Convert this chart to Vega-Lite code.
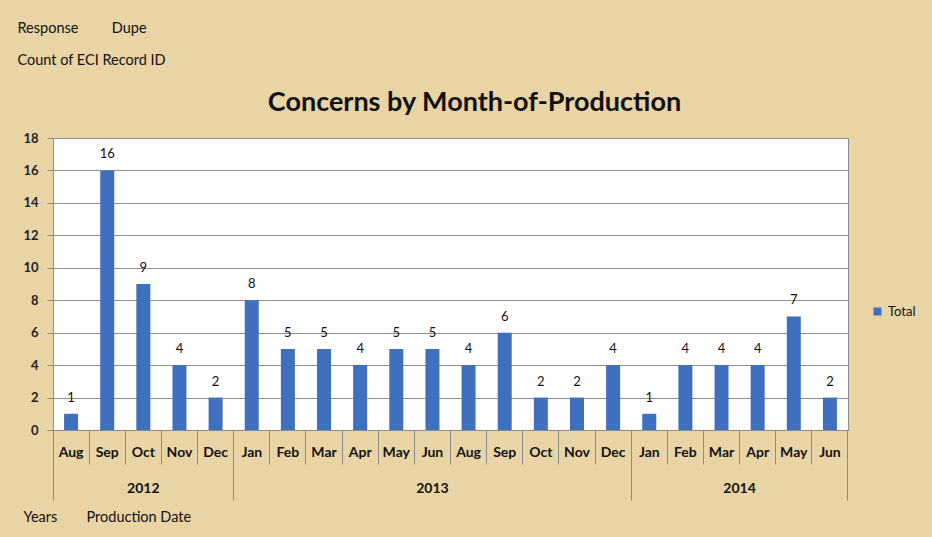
{
  "$schema": "https://vega.github.io/schema/vega-lite/v6.json",
  "autosize": {"type": "none"},
  "width": 795,
  "height": 292,
  "padding": {"left": 53, "top": 138, "right": 84, "bottom": 107},
  "background": "#E9D4A5",
  "title": {
    "text": "Concerns by Month-of-Production",
    "font": "Lato",
    "fontSize": 27,
    "fontWeight": "bold",
    "color": "#111111",
    "anchor": "middle",
    "dx": 24,
    "offset": -97
  },
  "config": {
    "view": {"fill": "white", "stroke": "#8c8c8c", "strokeWidth": 1},
    "font": "Lato"
  },
  "data": {
    "values": [
      {"key": "2012-Aug", "year": "2012", "month": "Aug", "count": 1, "series": "Total"},
      {"key": "2012-Sep", "year": "2012", "month": "Sep", "count": 16, "series": "Total"},
      {"key": "2012-Oct", "year": "2012", "month": "Oct", "count": 9, "series": "Total"},
      {"key": "2012-Nov", "year": "2012", "month": "Nov", "count": 4, "series": "Total"},
      {"key": "2012-Dec", "year": "2012", "month": "Dec", "count": 2, "series": "Total"},
      {"key": "2013-Jan", "year": "2013", "month": "Jan", "count": 8, "series": "Total"},
      {"key": "2013-Feb", "year": "2013", "month": "Feb", "count": 5, "series": "Total"},
      {"key": "2013-Mar", "year": "2013", "month": "Mar", "count": 5, "series": "Total"},
      {"key": "2013-Apr", "year": "2013", "month": "Apr", "count": 4, "series": "Total"},
      {"key": "2013-May", "year": "2013", "month": "May", "count": 5, "series": "Total"},
      {"key": "2013-Jun", "year": "2013", "month": "Jun", "count": 5, "series": "Total"},
      {"key": "2013-Aug", "year": "2013", "month": "Aug", "count": 4, "series": "Total"},
      {"key": "2013-Sep", "year": "2013", "month": "Sep", "count": 6, "series": "Total"},
      {"key": "2013-Oct", "year": "2013", "month": "Oct", "count": 2, "series": "Total"},
      {"key": "2013-Nov", "year": "2013", "month": "Nov", "count": 2, "series": "Total"},
      {"key": "2013-Dec", "year": "2013", "month": "Dec", "count": 4, "series": "Total"},
      {"key": "2014-Jan", "year": "2014", "month": "Jan", "count": 1, "series": "Total"},
      {"key": "2014-Feb", "year": "2014", "month": "Feb", "count": 4, "series": "Total"},
      {"key": "2014-Mar", "year": "2014", "month": "Mar", "count": 4, "series": "Total"},
      {"key": "2014-Apr", "year": "2014", "month": "Apr", "count": 4, "series": "Total"},
      {"key": "2014-May", "year": "2014", "month": "May", "count": 7, "series": "Total"},
      {"key": "2014-Jun", "year": "2014", "month": "Jun", "count": 2, "series": "Total"}
    ]
  },
  "resolve": {"axis": {"x": "independent", "y": "independent"}},
  "layer": [
    {
      "mark": {"type": "bar", "size": 14},
      "encoding": {
        "x": {
          "field": "key",
          "type": "nominal",
          "sort": null,
          "scale": {"paddingInner": 0, "paddingOuter": 0},
          "axis": {
            "orient": "bottom",
            "title": "Production Date",
            "titleFont": "Lato",
            "titleFontSize": 14.5,
            "titleFontWeight": "normal",
            "titleColor": "#111111",
            "titleAnchor": "start",
            "titleAlign": "left",
            "titleBaseline": "middle",
            "titleX": 33,
            "titleY": 87,
            "labelExpr": "slice(datum.value, 5)",
            "labelAngle": 0,
            "labelFont": "Lato",
            "labelFontSize": 14,
            "labelFontWeight": "bold",
            "labelColor": "#111111",
            "labelPadding": {"condition": {"test": "datum.value == '2014-Jun'", "value": -55}, "value": -19},
            "labelOverlap": false,
            "bandPosition": 1,
            "tickSize": {"condition": {"test": "datum.value == '2014-Jun'", "value": 70}, "value": 34},
            "tickColor": "#8c8c8c",
            "domainColor": "#8c8c8c",
            "grid": false
          }
        },
        "y": {
          "field": "count",
          "type": "quantitative",
          "scale": {"domain": [0, 18], "nice": false},
          "axis": {
            "values": [0, 2, 4, 6, 8, 10, 12, 14, 16, 18],
            "labelOverlap": false,
            "title": ["Response\u00a0\u00a0\u00a0\u00a0\u00a0\u00a0\u00a0\u00a0\u00a0Dupe", "\u00a0\u00a0\u00a0\u00a0Count of  ECI Record ID"],
            "titleLineHeight": 32,
            "titleAngle": 0,
            "titleFont": "Lato",
            "titleFontSize": 14.5,
            "titleFontWeight": "normal",
            "titleColor": "#111111",
            "titleAlign": "left",
            "titleBaseline": "top",
            "titleX": -36,
            "titleY": -117,
            "labelFont": "Lato",
            "labelFontSize": 13,
            "labelFontWeight": "bold",
            "labelColor": "#222222",
            "labelPadding": 9,
            "tickSize": 6,
            "tickColor": "#8c8c8c",
            "domainColor": "#8c8c8c",
            "gridColor": "#8f8f8f",
            "gridWidth": 1.2
          }
        },
        "color": {
          "field": "series",
          "type": "nominal",
          "scale": {"range": ["#3F6FBF"]},
          "legend": {
            "title": null,
            "orient": "none",
            "legendX": 818,
            "legendY": 167,
            "symbolType": "square",
            "symbolSize": 64,
            "labelFont": "Lato",
            "labelFontSize": 13,
            "labelColor": "#111111",
            "labelOffset": 4
          }
        }
      }
    },
    {
      "mark": {"type": "text", "baseline": "middle", "dy": -16, "font": "Lato", "fontSize": 13, "color": "#111111"},
      "encoding": {
        "x": {
          "field": "key",
          "type": "nominal",
          "sort": null,
          "axis": {
            "orient": "bottom",
            "title": "Years",
            "titleFont": "Lato",
            "titleFontSize": 14.5,
            "titleFontWeight": "normal",
            "titleColor": "#111111",
            "titleAnchor": "start",
            "titleAlign": "left",
            "titleBaseline": "middle",
            "titleX": -30,
            "titleY": 87,
            "labelExpr": "datum.value == '2012-Oct' ? '2012' : datum.value == '2013-Jun' ? '2013' : datum.value == '2014-Mar' ? '2014' : ''",
            "labelAngle": 0,
            "labelFont": "Lato",
            "labelFontSize": 14,
            "labelFontWeight": "bold",
            "labelColor": "#111111",
            "labelPadding": -19,
            "labelOverlap": false,
            "labelOffset": {"condition": {"test": "datum.value == '2014-Mar'", "value": 18}, "value": 0},
            "bandPosition": 0,
            "tickSize": 70,
            "tickColor": "#8c8c8c",
            "tickOpacity": {"condition": {"test": "indexof(['2012-Aug','2013-Jan','2014-Jan'], datum.value) >= 0", "value": 1}, "value": 0},
            "domain": false,
            "grid": false
          }
        },
        "y": {
          "field": "count",
          "type": "quantitative",
          "axis": null
        },
        "text": {"field": "count", "type": "quantitative"}
      }
    }
  ]
}
